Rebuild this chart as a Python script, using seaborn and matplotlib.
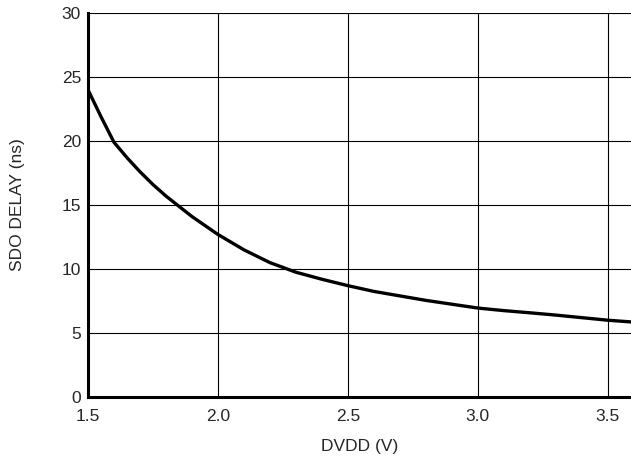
import numpy as np
import pandas as pd
import matplotlib
matplotlib.use('Agg')
import matplotlib.pyplot as plt
import seaborn as sns

dvdd = [1.50, 1.55, 1.60, 1.65, 1.70, 1.75, 1.80, 1.85, 1.90, 1.95, 2.00,
        2.10, 2.20, 2.30, 2.40, 2.50, 2.60, 2.70, 2.80, 2.90, 3.00,
        3.10, 3.20, 3.30, 3.40, 3.50, 3.60]
delay = [24.0, 21.9, 19.9, 18.7, 17.6, 16.6, 15.7, 14.9, 14.1, 13.4, 12.7,
         11.5, 10.5, 9.75, 9.2, 8.7, 8.25, 7.9, 7.55, 7.25, 6.95,
         6.75, 6.58, 6.4, 6.2, 6.0, 5.85]
xticks = [1.5, 2.0, 2.5, 3.0, 3.5]
yticks = [0, 5, 10, 15, 20, 25, 30]

df = pd.DataFrame({'DVDD (V)': dvdd, 'SDO DELAY (ns)': delay})

sns.set_style('white')
plt.rcParams['font.family'] = ['Liberation Sans', 'DejaVu Sans']

fig = plt.figure(figsize=(6.31, 4.69), dpi=100)
ax = fig.add_axes([88/631, 1 - 397/469, 1 - 88/631, (397 - 13)/469])

sns.lineplot(data=df, x='DVDD (V)', y='SDO DELAY (ns)', ax=ax, color='black',
             linewidth=2.4, solid_joinstyle='round')

ax.set_xlim(1.5, 3.59)
ax.set_ylim(0, 30)
ax.set_xticks(xticks)
ax.set_yticks(yticks)
ax.set_xticklabels([f'{t:.1f}' for t in xticks])
ax.grid(True, color='black', linewidth=0.8)
ax.tick_params(axis='x', length=0, labelsize=12.5, pad=8.5)
ax.tick_params(axis='y', length=0, labelsize=12.5, pad=5)

for s in ['top', 'right']:
    ax.spines[s].set_visible(False)
for s in ['left', 'bottom']:
    ax.spines[s].set_linewidth(2.2)
    ax.spines[s].set_color('black')

ax.set_xlabel('DVDD (V)', fontsize=12.5)
ax.set_ylabel('SDO DELAY (ns)', fontsize=12.5)
ax.xaxis.set_label_coords(0.5, -0.11)
ax.yaxis.set_label_coords(-0.116, 0.5)

plt.savefig('out.png', dpi=100)
